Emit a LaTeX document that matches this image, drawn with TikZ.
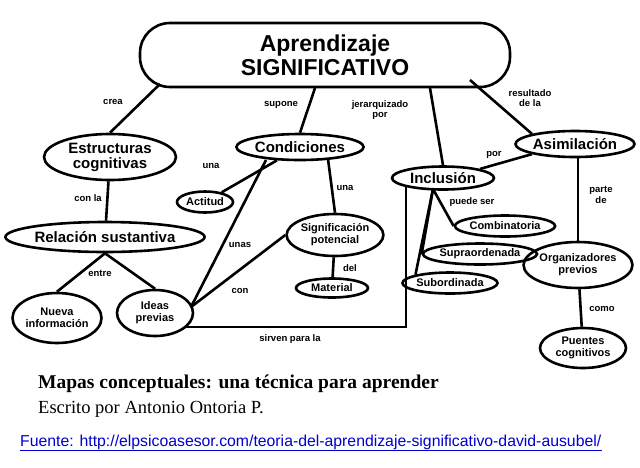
\documentclass[tikz,border=0pt]{standalone}
\usepackage{fontspec}
\setmainfont{Liberation Serif}
\newfontfamily\arial{Liberation Sans}
\usetikzlibrary{shapes.geometric}
\begin{document}
\begin{tikzpicture}[x=1pt,y=-1pt,
  concept/.style={ellipse,draw,line width=2.6pt,inner sep=0pt,font=\arial\bfseries\fontsize{15}{15}\selectfont,align=center},
  small/.style={concept,font=\arial\bfseries\fontsize{11}{12}\selectfont},
  lbl/.style={font=\arial\bfseries\fontsize{9.5}{10.5}\selectfont,align=center,inner sep=1pt},
  conn/.style={line width=2.6pt}]
\useasboundingbox (0,0) rectangle (640,467);
\fill[white] (0,0) rectangle (640,467);
\node[draw,line width=2.6pt,rounded corners=30pt,minimum width=370pt,minimum height=64pt,align=center,font=\arial\bfseries\fontsize{23}{24}\selectfont] (top) at (325,55) {Aprendizaje\\SIGNIFICATIVO};
\node[concept,minimum width=132pt,minimum height=46pt] (est) at (110,157) {Estructuras\\cognitivas};
\node[concept,minimum width=186pt,minimum height=30pt] (rel) at (105,237) {Relación sustantiva};
\node[small,minimum width=80pt,minimum height=50pt] (nue) at (57,318) {Nueva\\información};
\node[small,minimum width=76pt,minimum height=46pt] (ide) at (155,313) {Ideas\\previas};
\node[concept,minimum width=112pt,minimum height=26pt] (con) at (300,147) {Condiciones};
\node[small,minimum width=56pt,minimum height=21pt] (act) at (205,202) {Actitud};
\node[small,minimum width=92pt,minimum height=42pt] (sig) at (335,235) {Significación\\potencial};
\node[small,minimum width=72pt,minimum height=19pt] (mat) at (332,288) {Material};
\node[concept,minimum width=102pt,minimum height=23pt] (inc) at (443,178) {Inclusión};
\node[concept,minimum width=116pt,minimum height=26pt] (asi) at (575,144) {Asimilación};
\node[small,minimum width=82pt,minimum height=21pt] (com) at (505,226) {Combinatoria};
\node[small,minimum width=92pt,minimum height=21pt] (sup) at (480,254) {Supraordenada};
\node[small,minimum width=86pt,minimum height=21pt] (sub) at (450,283) {Subordinada};
\node[small,minimum width=88pt,minimum height=46pt] (org) at (578,265) {Organizadores\\previos};
\node[small,minimum width=86pt,minimum height=40pt] (pue) at (583,348) {Puentes\\cognitivos};

\coordinate (a1) at (160,84);
\coordinate (a2) at (315,88);
\coordinate (a3) at (430,88);
\coordinate (a4) at (470,80);
\draw[conn] (a1) -- (est.north);
\draw[conn] (a2) -- (con.north);
\draw[conn] (a3) -- (inc.north);
\draw[conn] (a4) -- (asi.north west);
\node[lbl] (l1) at (113,102) {crea};
\node[lbl] (l2) at (281,105) {supone};
\node[lbl] (l3) at (380,110) {jerarquizado\\por};
\node[lbl] (l4) at (530,98) {resultado\\de la};
\draw[conn] (est) -- (rel);
\node[lbl] (l5) at (88,198) {con la};
\draw[conn] (rel.south) -- (nue.north);
\draw[conn] (rel.south) -- (ide.north);
\node[lbl] (l6) at (100,273) {entre};
\draw[conn] (con) -- (act);
\node[lbl] (l7) at (211,166) {una};
\coordinate (c1) at (328,159);
\draw[conn] (c1) -- (sig.north);
\node[lbl] (l8) at (345,188) {una};
\coordinate (c2) at (266,160);
\coordinate (ie) at (191,307);
\draw[conn] (c2) -- (ie);
\node[lbl] (l9) at (240,245) {unas};
\draw[conn] (sig.west) -- (ie);
\node[lbl] (l10) at (240,291) {con};
\draw[conn] (sig) -- (mat);
\node[lbl] (l11) at (350,268) {del};
\coordinate (i1) at (185,327);
\coordinate (b1) at (406,327);
\coordinate (b2) at (406,187);
\draw[conn] (i1) -- (b1) -- (b2);
\node[lbl] (l12) at (290,339) {sirven para la};
\draw[conn] (inc.north east) -- (asi.south west);
\node[lbl] (l13) at (494,155) {por};
\coordinate (ib) at (433,189);
\draw[conn] (ib) -- (com.west);
\draw[conn] (ib) -- (sup.west);
\draw[conn] (ib) -- (sub.north west);
\node[lbl] (l14) at (472,202) {puede ser};
\coordinate (s1) at (578,157);
\draw[conn] (s1) -- (org.north);
\node[lbl] (l15) at (601,195) {parte\\de};
\draw[conn] (org) -- (pue);
\node[lbl] (l16) at (602,309) {como};

\node[anchor=west,inner sep=0,font=\bfseries\fontsize{19.5}{20}\selectfont] (cap1) at (38,384) {Mapas conceptuales: una técnica para aprender};
\node[anchor=west,inner sep=0,font=\fontsize{18.5}{19}\selectfont] (cap2) at (38,409) {Escrito por Antonio Ontoria P.};
\node[anchor=west,inner sep=0,text=blue!80!black,font=\arial\fontsize{15.8}{16}\selectfont] (cap3) at (20,442) {Fuente: http://elpsicoasesor.com/teoria-del-aprendizaje-significativo-david-ausubel/};
\draw[blue!80!black,line width=0.8pt] ([yshift=-1pt]cap3.south west) -- ([yshift=-1pt]cap3.south east);
\end{tikzpicture}
\end{document}
